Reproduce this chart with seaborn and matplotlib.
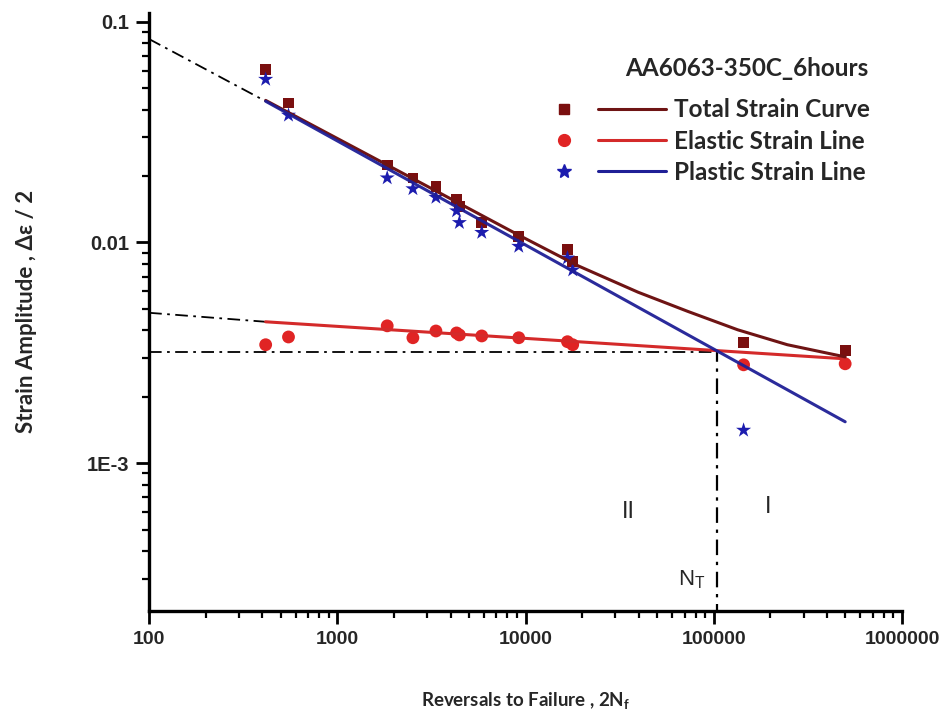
import numpy as np
import pandas as pd
import seaborn as sns
import matplotlib.pyplot as plt
from matplotlib.font_manager import FontProperties
from matplotlib.lines import Line2D
from matplotlib.legend_handler import HandlerTuple
from matplotlib.ticker import LogLocator, NullFormatter

OUT_FN = 'out.png'

# specimens: reversals to failure (2Nf) and strain amplitudes
reversals = [416, 550, 1840, 2520, 3340, 4300, 4450, 5850, 9200, 16700, 17800, 144000, 499000]
total_strain = [0.0608, 0.0428, 0.0224, 0.0196, 0.0179, 0.0156, 0.0146, 0.0123, 0.01064,
                0.00929, 0.0082, 0.00351, 0.00323]
elastic_strain = [0.00344, 0.00373, 0.00419, 0.00370, 0.00397, 0.00389, 0.00381, 0.00377,
                  0.00370, 0.00355, 0.00344, 0.00279, 0.00282]
plastic_strain = [0.0548, 0.0377, 0.0196, 0.0175, 0.0160, 0.0139, 0.0123, 0.0111, 0.0096,
                  0.0085, 0.0075, 0.00141, np.nan]

# fitted lines (end points)
elastic_fit_n = [416, 499000]
elastic_fit_e = [0.00437, 0.00297]
elastic_ext_n = [100, 416]
elastic_ext_e = [0.00480, 0.00437]
plastic_fit_n = [416, 499000]
plastic_fit_e = [0.0436, 0.00154]
plastic_ext_n = [100, 416]
plastic_ext_e = [0.0834, 0.0436]
total_curve_n = [416, 2716, 9180, 19050, 39600, 72800, 134000, 246000, 499000]
total_curve_e = [0.0440, 0.0188, 0.0108, 0.00783, 0.00595, 0.00487, 0.00402, 0.00344, 0.00303]

# transition life
n_t = 104000
eps_t = 0.00318

x_ticks = [100, 1000, 10000, 100000, 1000000]
x_tick_labels = ['100', '1000', '10000', '100000', '1000000']
y_ticks = [0.1, 0.01, 0.001]
y_tick_labels = ['0.1', '0.01', '1E-3']

TOTAL_MK = '#7a0f0f'
TOTAL_LN = '#6e1414'
ELASTIC_MK = '#e02424'
ELASTIC_LN = '#d42a2a'
PLASTIC_MK = '#1c1cae'
PLASTIC_LN = '#1f1f96'
DASHDOT = (0, (7, 3, 1.5, 3))


def make_frame():
    return pd.DataFrame({'N': reversals, 'total': total_strain,
                         'elastic': elastic_strain, 'plastic': plastic_strain})


def plot_chart(df):
    sns.set_style('ticks')
    plt.rcParams['font.family'] = 'Liberation Sans'
    plt.rcParams['mathtext.fontset'] = 'custom'
    plt.rcParams['mathtext.bf'] = 'Lato:bold'
    plt.rcParams['mathtext.rm'] = 'Liberation Sans'
    fig = plt.figure(figsize=(9.44, 7.21), dpi=100)
    ax = fig.add_axes([0.158, 0.1526, 0.7975, 0.83])
    ax.set_xscale('log')
    ax.set_yscale('log')

    # dash-dot extrapolations and transition guides
    sns.lineplot(x=elastic_ext_n, y=elastic_ext_e, ax=ax, color='black', lw=1.3,
                 linestyle=DASHDOT, estimator=None, sort=False)
    sns.lineplot(x=plastic_ext_n, y=plastic_ext_e, ax=ax, color='black', lw=1.3,
                 linestyle=DASHDOT, estimator=None, sort=False)
    sns.lineplot(x=[x_ticks[0], n_t], y=[eps_t, eps_t], ax=ax, color='black', lw=1.3,
                 linestyle=DASHDOT, estimator=None, sort=False)
    sns.lineplot(x=[n_t, n_t], y=[1e-4, eps_t], ax=ax, color='black', lw=1.6,
                 linestyle=DASHDOT, estimator=None, sort=False)

    # points
    sns.scatterplot(data=df, x='N', y='elastic', ax=ax, marker='o', s=85,
                    color=ELASTIC_MK, edgecolor='none', zorder=3)
    sns.scatterplot(data=df, x='N', y='total', ax=ax, marker='s', s=60,
                    color=TOTAL_MK, edgecolor='none', zorder=3)
    sns.scatterplot(data=df, x='N', y='plastic', ax=ax, marker='*', s=130,
                    color=PLASTIC_MK, edgecolor='none', zorder=3)

    # fitted lines
    sns.lineplot(x=elastic_fit_n, y=elastic_fit_e, ax=ax, color=ELASTIC_LN, lw=2.2,
                 estimator=None, sort=False, zorder=4)
    sns.lineplot(x=total_curve_n, y=total_curve_e, ax=ax, color=TOTAL_LN, lw=2.2,
                 estimator=None, sort=False, zorder=4)
    sns.lineplot(x=plastic_fit_n, y=plastic_fit_e, ax=ax, color=PLASTIC_LN, lw=2.2,
                 estimator=None, sort=False, zorder=4, alpha=0.95)

    ax.set_xlim(100, 1000000)
    ax.set_ylim(2.14e-4, 0.11)

    tick_fp_x = FontProperties(family='Liberation Sans', weight='bold', size=14)
    tick_fp_y = FontProperties(family='Liberation Sans', weight='bold', size=14.5)
    ax.set_xticks(x_ticks, x_tick_labels)
    ax.set_yticks(y_ticks, y_tick_labels)
    for lab in ax.get_xticklabels():
        lab.set_fontproperties(tick_fp_x)
    for lab in ax.get_yticklabels():
        lab.set_fontproperties(tick_fp_y)
    ax.xaxis.set_minor_locator(LogLocator(base=10, subs=np.arange(2, 10)))
    ax.yaxis.set_minor_locator(LogLocator(base=10, subs=np.arange(2, 10)))
    ax.xaxis.set_minor_formatter(NullFormatter())
    ax.yaxis.set_minor_formatter(NullFormatter())
    ax.tick_params(which='major', direction='out', length=9.5, width=2, color='black', pad=5)
    ax.tick_params(which='minor', direction='out', length=5, width=1.6, color='black')

    for side in ['top', 'right']:
        ax.spines[side].set_visible(False)
    for side in ['left', 'bottom']:
        ax.spines[side].set_linewidth(2.4)
        ax.spines[side].set_color('black')

    ax.set_xlabel(r'Reversals to Failure , 2N$_{\mathbf{f}}$',
                  fontproperties=FontProperties(family='Lato', weight='bold', size=13.5),
                  labelpad=31)
    ax.set_ylabel('Strain Amplitude , Δε / 2',
                  fontproperties=FontProperties(family='Lato', weight='bold', size=16),
                  labelpad=36)

    # region labels
    ax.text(35100, 6.0e-4, 'II', fontsize=17, ha='center', va='center')
    ax.text(195000, 6.3e-4, 'I', fontsize=17, ha='center', va='center')
    ax.text(76000, 2.97e-4, r'N$_{\rm T}$', fontsize=16, ha='center', va='center')

    # legend: marker then a separate line sample
    handles = [
        (Line2D([], [], ls='none', marker='s', ms=7.5, color=TOTAL_MK),
         Line2D([], [], color=TOTAL_LN, lw=2.2)),
        (Line2D([], [], ls='none', marker='o', ms=8.5, color=ELASTIC_MK),
         Line2D([], [], color=ELASTIC_LN, lw=2.2)),
        (Line2D([], [], ls='none', marker='*', ms=10.5, color=PLASTIC_MK),
         Line2D([], [], color=PLASTIC_LN, lw=2.2)),
    ]
    labels = ['Total Strain Curve', 'Elastic Strain Line', 'Plastic Strain Line']
    ax.legend(handles, labels, handler_map={tuple: HandlerTuple(ndivide=None, pad=0)},
              frameon=False, loc='upper right', bbox_to_anchor=(0.987, 0.893),
              handlelength=5.6, handletextpad=0.33, labelspacing=0.34,
              prop={'family': 'Lato', 'weight': 'bold', 'size': 17.5})
    ax.text(0.955, 0.906, 'AA6063-350C_6hours', transform=ax.transAxes, ha='right',
            va='center', fontproperties=FontProperties(family='Lato', weight='bold', size=17.5))

    fig.savefig(OUT_FN, dpi=100)
    plt.close(fig)


def main():
    df = make_frame()
    plot_chart(df)


if __name__ == '__main__':
    main()
